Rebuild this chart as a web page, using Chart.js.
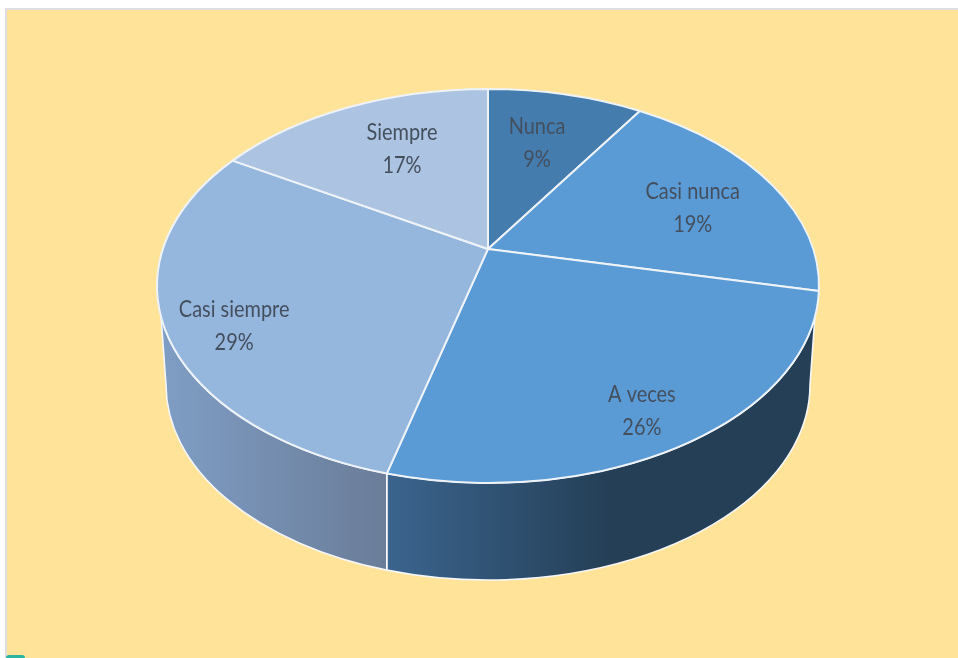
<!DOCTYPE html>
<html>
<head>
<meta charset="utf-8">
<script src="https://cdn.jsdelivr.net/npm/chart.js@4"></script>
<style>
  html, body { margin: 0; padding: 0; background: #fff; overflow: hidden; }
  #marco { position: relative; width: 958px; height: 658px; overflow: hidden; }
  #fondo { position: absolute; left: 5px; top: 8px; width: 953px; height: 650px; background: #FFE398;
           border-left: 2px solid #dedede; border-top: 2px solid #dedede; box-sizing: border-box; }
  #marca { position: absolute; left: 6px; top: 655px; width: 19px; height: 6px; background: #2bb5a0; border-radius: 3px 3px 0 0; }
  canvas { position: absolute; left: 0; top: 0; }
</style>
</head>
<body>
<div id="marco">
  <div id="fondo"></div>
  <div id="marca"></div>
  <canvas id="grafico" width="958" height="658"></canvas>
</div>
<script>
const categorias = ['Nunca', 'Casi nunca', 'A veces', 'Casi siempre', 'Siempre'];
// valores estimados de las porciones, la etiqueta muestra el redondeo
const porcentajes = [9.1, 19.3, 25.7, 29.4, 16.5];
const colores = ['#457CAE', '#5B9BD5', '#5B9BD5', '#95B6DD', '#ADC3E2'];

// perspectiva del disco: el centro del pastel queda arriba del centro de la elipse
const inclinacion = -0.188;
const estiramiento = 331 / 197;
// elipse de abajo
const baseY = 385, baseRx = 322, baseRy = 195;
const paredDesde = 9 * Math.PI / 180, paredHasta = 171 * Math.PI / 180;

// gradiente de la pared, [xInicio, xFin, color1, color2] por porcion
const paredes = {
  2: [388, 610, '#3B648E', '#243F56'],
  3: [160, 388, '#7F9EC5', '#6A7C98']
};
// ajuste de las etiquetas: radio relativo y giro en grados
const radioEtiqueta = [0.652, 0.696, 0.837, 0.816, 0.659];
const giroEtiqueta = [-1.4, 3.2, 2.3, -4.8, 3.2];

function anguloElipse(t) {
  const u = Math.cos(t), v = Math.sin(t);
  const d = 1 + inclinacion * v;
  const vv = (v + inclinacion) / d;
  const uu = u * Math.sqrt(1 - inclinacion * inclinacion) / d;
  let a = Math.atan2(vv, uu);
  if (a < -Math.PI / 2 - 0.001) a += Math.PI * 2;
  return a;
}

function proyectar(el, t, r) {
  const u = r * Math.cos(t), v = r * Math.sin(t);
  const d = 1 + inclinacion * v;
  return {
    x: el.x + el.outerRadius * estiramiento * u * Math.sqrt(1 - inclinacion * inclinacion) / d,
    y: el.y + el.outerRadius * (v + inclinacion) / d
  };
}

const pastel3d = {
  id: 'pastel3d',
  beforeDatasetDraw(chart, args) {
    const ctx = chart.ctx;
    const arcos = chart.getDatasetMeta(args.index).data;

    // paredes laterales
    arcos.forEach((el, i) => {
      if (!paredes[i]) return;
      const rx = el.outerRadius * estiramiento, ry = el.outerRadius;
      const a1 = Math.max(anguloElipse(el.startAngle), paredDesde);
      const a2 = Math.min(anguloElipse(el.endAngle), paredHasta);
      const x1 = el.x + rx * Math.cos(a1), x2 = el.x + rx * Math.cos(a2);
      const b1 = Math.acos(Math.max(-1, Math.min(1, (x1 - el.x) / baseRx)));
      const b2 = Math.acos(Math.max(-1, Math.min(1, (x2 - el.x) / baseRx)));
      const g = ctx.createLinearGradient(paredes[i][0], 0, paredes[i][1], 0);
      g.addColorStop(0, paredes[i][2]);
      g.addColorStop(1, paredes[i][3]);
      ctx.beginPath();
      ctx.ellipse(el.x, el.y, rx, ry, 0, a1, a2);
      ctx.ellipse(el.x, baseY, baseRx, baseRy, 0, b2, b1, true);
      ctx.closePath();
      ctx.fillStyle = g;
      ctx.fill();
      ctx.lineWidth = 1.6;
      ctx.strokeStyle = '#f4f6f8';
      ctx.stroke();
    });

    // cara de arriba
    arcos.forEach((el, i) => {
      const rx = el.outerRadius * estiramiento, ry = el.outerRadius;
      const c = proyectar(el, 0, 0);
      ctx.beginPath();
      ctx.moveTo(c.x, c.y);
      ctx.ellipse(el.x, el.y, rx, ry, 0, anguloElipse(el.startAngle), anguloElipse(el.endAngle));
      ctx.closePath();
      ctx.fillStyle = colores[i];
      ctx.fill();
      ctx.lineWidth = 2;
      ctx.strokeStyle = '#eef3f8';
      ctx.lineJoin = 'round';
      ctx.stroke();
    });

    // etiquetas
    ctx.fillStyle = '#444f5e';
    ctx.font = '24px Lato';
    ctx.textAlign = 'center';
    ctx.textBaseline = 'middle';
    arcos.forEach((el, i) => {
      const t = (el.startAngle + el.endAngle) / 2 + giroEtiqueta[i] * Math.PI / 180;
      const p = proyectar(el, t, radioEtiqueta[i]);
      ctx.save();
      ctx.translate(p.x, p.y);
      ctx.scale(0.83, 1);
      ctx.fillText(categorias[i], 0, -15.5);
      ctx.fillText(Math.round(porcentajes[i]) + '%', 0, 17.5);
      ctx.restore();
    });
    return false;
  }
};

new Chart(document.getElementById('grafico'), {
  type: 'pie',
  data: {
    labels: categorias,
    datasets: [{ data: porcentajes, backgroundColor: colores, borderColor: '#eef3f8', borderWidth: 0 }]
  },
  options: {
    responsive: false,
    animation: false,
    layout: { padding: { left: 157, right: 139, top: 89, bottom: 175 } },
    plugins: { legend: { display: false }, tooltip: { enabled: false } }
  },
  plugins: [pastel3d]
});
</script>
</body>
</html>
